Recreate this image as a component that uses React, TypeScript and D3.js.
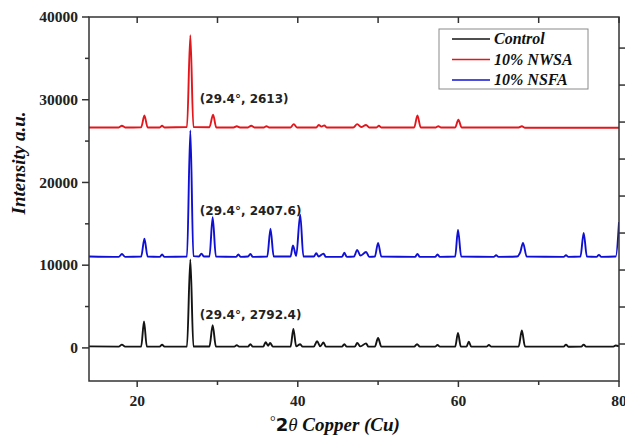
import React from "react"
import { scaleLinear, line, curveMonotoneX, range } from "d3"

const width = 625
const height = 439
const margin = { top: 17, right: 6, bottom: 58, left: 89 }

// 2theta, intensity pairs
const controlPattern: [number, number][] = [
  [14, 180], [17.7, 160], [18.1, 400], [18.5, 150], [20.5, 170], [20.85, 3200], [21.2, 160],
  [22.8, 150], [23.1, 380], [23.4, 150], [26.2, 170], [26.62, 10700], [27.0, 170],
  [29.0, 170], [29.4, 2750], [29.8, 170], [32.1, 150], [32.4, 330], [32.7, 150],
  [33.8, 160], [34.1, 450], [34.4, 150], [35.7, 160], [36.0, 700], [36.3, 250], [36.55, 600],
  [36.9, 160], [39.1, 150], [39.45, 2300], [39.8, 200], [40.3, 450], [40.6, 150],
  [42.0, 170], [42.4, 800], [42.8, 200], [43.2, 650], [43.5, 150], [45.5, 160], [45.8, 450],
  [46.1, 150], [47.1, 150], [47.4, 600], [47.8, 180], [48.5, 550], [48.8, 150], [49.6, 160],
  [50.0, 1200], [50.4, 150], [54.5, 150], [54.85, 450], [55.2, 150], [57.1, 150], [57.4, 350],
  [57.7, 150], [59.6, 150], [59.95, 1800], [60.3, 170], [61.0, 150], [61.3, 750], [61.6, 150],
  [63.5, 150], [63.8, 350], [64.1, 150], [67.5, 160], [67.9, 2100], [68.3, 160], [73.1, 150],
  [73.4, 400], [73.7, 140], [75.3, 150], [75.6, 400], [75.9, 150], [79.3, 150], [79.6, 300],
  [80, 200],
]

const nwsaPattern: [number, number][] = [
  [14, 26650], [17.7, 26650], [18.1, 26850], [18.5, 26650], [20.5, 26680], [20.9, 28100],
  [21.3, 26650], [22.8, 26650], [23.1, 26850], [23.4, 26650], [26.2, 26700], [26.62, 37800],
  [27.0, 26700], [29.0, 26680], [29.45, 28200], [29.85, 26650], [32.0, 26650], [32.4, 26800],
  [32.8, 26650], [33.8, 26650], [34.2, 26850], [34.6, 26650], [35.8, 26650], [36.1, 26800],
  [36.4, 26650], [39.1, 26650], [39.5, 27050], [39.9, 26650], [42.3, 26650], [42.6, 26950],
  [42.95, 26750], [43.3, 26900], [43.6, 26650], [46.9, 26650], [47.4, 27050], [47.9, 26700],
  [48.5, 26950], [48.9, 26650], [49.8, 26650], [50.1, 26850], [50.4, 26650], [54.5, 26650],
  [54.9, 28100], [55.3, 26650], [57.2, 26650], [57.5, 26800], [57.8, 26650], [59.6, 26650],
  [60.0, 27600], [60.4, 26650], [67.5, 26650], [67.9, 26800], [68.3, 26620], [80, 26620],
]

const nsfaPattern: [number, number][] = [
  [14, 11050], [17.7, 11000], [18.1, 11350], [18.5, 11000], [20.5, 11050], [20.9, 13200],
  [21.3, 11050], [22.8, 11000], [23.1, 11300], [23.4, 11000], [26.2, 11050], [26.62, 26300],
  [27.0, 11100], [27.7, 11050], [28.0, 11400], [28.3, 11050], [29.0, 11050], [29.4, 15800],
  [29.8, 11050], [32.3, 11000], [32.6, 11300], [32.9, 11000], [33.8, 11050], [34.1, 11350],
  [34.4, 11000], [36.2, 11050], [36.6, 14400], [37.0, 11050], [39.1, 11050], [39.4, 12400],
  [39.8, 11100], [40.3, 16100], [40.7, 11050], [42.0, 11050], [42.3, 11450], [42.6, 11050],
  [43.2, 11400], [43.5, 11000], [45.5, 11000], [45.8, 11500], [46.1, 11000], [47.0, 11050],
  [47.4, 11850], [47.8, 11150], [48.5, 11600], [48.9, 11000], [49.6, 11050], [50.0, 12700],
  [50.4, 11050], [54.6, 11000], [54.9, 11350], [55.2, 11000], [57.1, 11000], [57.4, 11300],
  [57.7, 11000], [59.6, 11050], [59.95, 14300], [60.35, 11050], [64.4, 11000], [64.7, 11200],
  [65.0, 11000], [67.3, 11050], [67.7, 11550], [68.05, 12700], [68.5, 11050], [73.1, 11000],
  [73.4, 11200], [73.7, 11000], [75.2, 11050], [75.6, 13900], [76.0, 11050], [77.2, 11000],
  [77.5, 11250], [77.8, 11000], [79.6, 11050], [80, 15200],
]

const seriesNames = ["Control", "10% NWSA", "10% NSFA"]
const seriesColors = ["#141414", "#e3161c", "#1010d4"]
const seriesData = [controlPattern, nwsaPattern, nsfaPattern]

// annotation anchors (2theta, intensity) and their labels
const noteLabels = ["(29.4°, 2613)", "(29.4°, 2407.6)", "(29.4°, 2792.4)"]
const notePoints: [number, number][] = [[27.8, 29600], [27.8, 16100], [27.8, 3450]]

const xMajorTicks = [20, 40, 60, 80]
const xMinorTicks = [30, 50, 70]
const xTopTicks = [20, 30, 40, 50, 60, 70, 80]
const yMajorTicks = [0, 10000, 20000, 30000, 40000]
const yMinorTicks = [5000, 15000, 25000, 35000]

const serif = "'Liberation Serif', 'Times New Roman', serif"
const axisColor = "#333"

function App() {
  const innerBottom = height - margin.bottom
  const innerRight = width - margin.right

  const xScale = scaleLinear().domain([14, 80]).range([margin.left, innerRight])
  const yScale = scaleLinear().domain([-4000, 40000]).range([innerBottom, margin.top])
  // the right hand axis carries its own, unlabeled tick spacing
  const rightScale = scaleLinear().domain([0, 9.84]).range([innerBottom, margin.top])

  const pathGen = line<[number, number]>()
    .x(d => xScale(d[0]))
    .y(d => yScale(d[1]))
    .curve(curveMonotoneX)

  const legendX = 439
  const legendY = 29

  return (
    <svg width={width} height={height} style={{ position: "absolute", left: 0, top: 0, background: "#fff" }}>
      <defs>
        <clipPath id="plot-clip">
          <rect x={margin.left} y={margin.top} width={innerRight - margin.left} height={innerBottom - margin.top} />
        </clipPath>
      </defs>

      <g clipPath="url(#plot-clip)">
        {seriesData.map((d, i) => (
          <path key={i} d={pathGen(d) || ""} fill="none" stroke={seriesColors[i]} strokeWidth={1.9} strokeLinejoin="round" />
        ))}
      </g>

      {/* frame */}
      <rect x={margin.left} y={margin.top} width={innerRight - margin.left} height={innerBottom - margin.top}
        fill="none" stroke={axisColor} strokeWidth={1.5} />

      {/* bottom axis */}
      {xMajorTicks.map(t => (
        <g key={t} transform={`translate(${xScale(t)}, ${innerBottom})`}>
          <line y2={6} stroke={axisColor} strokeWidth={1.5} />
          <text y={25} textAnchor="middle" fontFamily={serif} fontWeight="bold" fontSize={15.5} fill="#222">{t}</text>
        </g>
      ))}
      {xMinorTicks.map(t => (
        <line key={t} x1={xScale(t)} x2={xScale(t)} y1={innerBottom} y2={innerBottom + 4} stroke={axisColor} strokeWidth={1.5} />
      ))}
      {/* top ticks, inward */}
      {xTopTicks.map(t => (
        <line key={t} x1={xScale(t)} x2={xScale(t)} y1={margin.top} y2={margin.top + 6} stroke={axisColor} strokeWidth={1.5} />
      ))}

      {/* left axis */}
      {yMajorTicks.map(t => (
        <g key={t} transform={`translate(${margin.left}, ${yScale(t)})`}>
          <line x2={-7} stroke={axisColor} strokeWidth={1.5} />
          <text x={-11} dy="0.34em" textAnchor="end" fontFamily={serif} fontWeight="bold" fontSize={15.5} fill="#222">{t}</text>
        </g>
      ))}
      {yMinorTicks.map(t => (
        <line key={t} x1={margin.left} x2={margin.left - 4} y1={yScale(t)} y2={yScale(t)} stroke={axisColor} strokeWidth={1.5} />
      ))}

      {/* right axis ticks */}
      {range(1, 10).map(t => (
        <line key={t} x1={innerRight} x2={innerRight + 6} y1={rightScale(t)} y2={rightScale(t)} stroke={axisColor} strokeWidth={1.5} />
      ))}

      {/* annotations */}
      {noteLabels.map((label, i) => (
        <text key={label} x={xScale(notePoints[i][0])} y={yScale(notePoints[i][1])} fontFamily="'DejaVu Sans', sans-serif"
          fontWeight="bold" fontSize={12} fill="#222">{label}</text>
      ))}

      {/* legend */}
      <rect x={legendX} y={legendY} width={149} height={60} fill="#fff" stroke="#8a8a8a" strokeWidth={1} />
      {seriesNames.map((name, i) => (
        <g key={name} transform={`translate(${legendX}, ${legendY + 10 + i * 20.5})`}>
          <line x1={13} x2={51} stroke={seriesColors[i]} strokeWidth={1.7} />
          <text x={55} dy="0.33em" fontFamily={serif} fontStyle="italic" fontWeight="bold" fontSize={16} fill="#111">{name}</text>
        </g>
      ))}

      {/* axis titles */}
      <text transform="translate(25, 163) rotate(-90)" textAnchor="middle" fontFamily={serif} fontStyle="italic"
        fontWeight="bold" fontSize={19} fill="#111">Intensity a.u.</text>
      <text x={335} y={431} textAnchor="middle" fontFamily={serif} fontSize={19} fill="#111">
        <tspan fontSize={14} dy={-5}>°</tspan>
        <tspan dy={5} fontFamily="'DejaVu Sans', sans-serif" fontWeight="bold" fontSize={18}>2</tspan>
        <tspan fontStyle="italic">θ</tspan>
        <tspan fontStyle="italic" fontWeight="bold"> Copper (Cu)</tspan>
      </text>
    </svg>
  )
}

export default App
